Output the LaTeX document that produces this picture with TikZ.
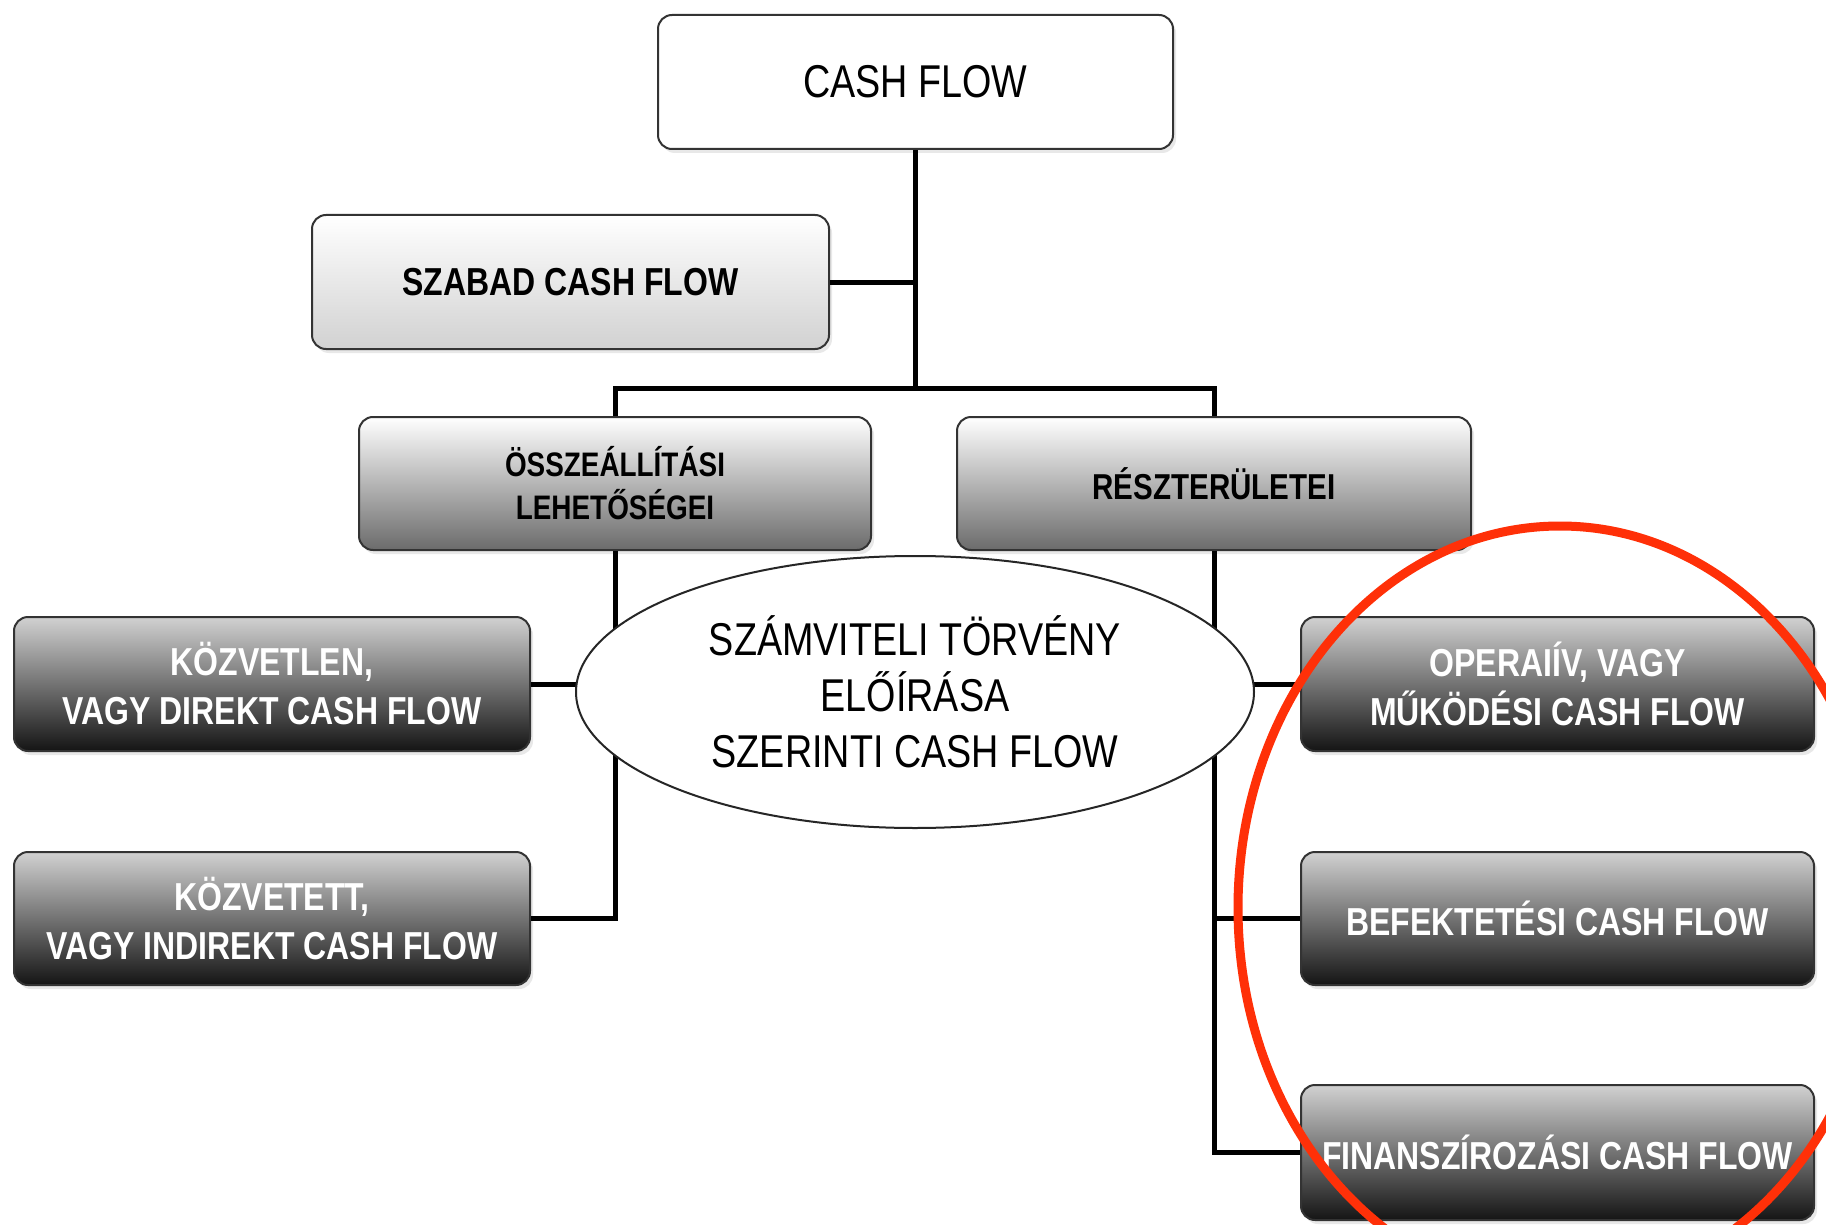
\documentclass[tikz,border=0pt]{standalone}
\usepackage{fontspec}
\setmainfont{Liberation Sans}[FakeStretch=0.82]
\usetikzlibrary{shapes.geometric,shadows}
\definecolor{redring}{HTML}{FF3008}
\begin{document}
\begin{tikzpicture}[x=1pt,y=-1pt,
  box/.style={draw=black!80, line width=2pt, rounded corners=14pt,
    minimum width=515pt, minimum height=134pt, align=center, inner sep=0pt,
    drop shadow={opacity=0.18, shadow xshift=3pt, shadow yshift=-4pt}},
  whitebox/.style={box, fill=white, text=black},
  lightbox/.style={box, top color=white, bottom color=black!18, text=black,
    font=\bfseries\fontsize{39}{47}\selectfont},
  midbox/.style={box, top color=white, middle color=black!20, bottom color=black!58, text=black,
    font=\bfseries\fontsize{34}{43}\selectfont},
  darkbox/.style={box, top color=black!18, middle color=black!48, bottom color=black!92,
    text=white, font=\bfseries\fontsize{39}{49}\selectfont},
  conn/.style={line width=5pt, black},
  oval/.style={ellipse, draw=black!85, line width=2pt, fill=white, minimum width=678pt,
    minimum height=272pt, inner sep=0pt, align=center, font=\fontsize{46}{56}\selectfont}
]
\clip (0,0) rectangle (1826,1225);
\fill[white] (0,0) rectangle (1826,1225);

\node[whitebox, font=\fontsize{46}{52}\selectfont] (cf) at (915.5,82) {CASH FLOW};
\node[lightbox, minimum width=517pt] (szabad) at (570.5,282) {SZABAD CASH FLOW};
\node[midbox, minimum width=512pt, minimum height=133pt] (ossz) at (615,483.5) {ÖSSZEÁLLÍTÁSI\\LEHETŐSÉGEI};
\node[midbox, minimum width=514pt, minimum height=133pt, font=\bfseries\fontsize{36}{43}\selectfont] (resz) at (1214,483.5) {RÉSZTERÜLETEI};
\node[darkbox, minimum width=516pt] (kozv1) at (272,684) {KÖZVETLEN,\\VAGY DIREKT CASH FLOW};
\node[darkbox, minimum width=516pt, minimum height=133pt] (kozv2) at (272,918.5) {KÖZVETETT,\\VAGY INDIREKT CASH FLOW};
\node[darkbox, minimum width=513pt] (op) at (1557.5,684) {OPERAIÍV, VAGY\\MŰKÖDÉSI CASH FLOW};
\node[darkbox, minimum width=513pt, minimum height=133pt] (bef) at (1557.5,918.5) {BEFEKTETÉSI CASH FLOW};
\node[darkbox, minimum width=513pt, minimum height=135pt] (fin) at (1557.5,1152.5) {FINANSZÍROZÁSI CASH FLOW};

\coordinate (bus) at (915.5,388);
\draw[conn] (cf.south) -- (bus);
\draw[conn] (szabad.east) -- (szabad.east -| cf.south);
\draw[conn] (ossz.north) -- (ossz.north |- bus) -- (resz.north |- bus) -- (resz.north);
\draw[conn] (ossz.south) -- (ossz.south |- kozv2.east) -- (kozv2.east);
\draw[conn] (kozv1.east) -- (kozv1.east -| ossz.south);
\draw[conn] (resz.south) -- (resz.south |- fin.west) -- (fin.west);
\draw[conn] (op.west) -- (op.west -| resz.south);
\draw[conn] (bef.west) -- (bef.west -| resz.south);

\node[oval] (law) at (915,692) {SZÁMVITELI TÖRVÉNY\\ELŐÍRÁSA\\SZERINTI CASH FLOW};

\draw[redring, line width=9pt] (1560,908) ellipse [x radius=322, y radius=382];
\end{tikzpicture}
\end{document}
